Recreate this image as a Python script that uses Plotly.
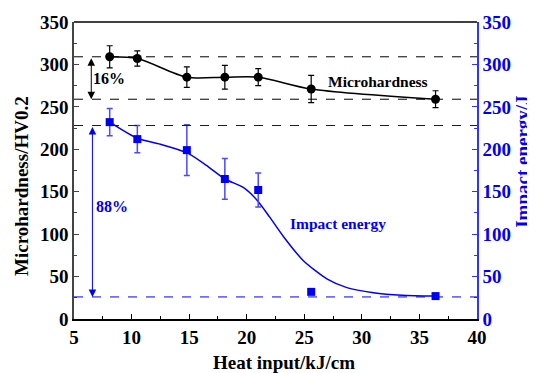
import plotly.graph_objects as go

# Data
heat_input = [8.1, 10.5, 14.8, 18.1, 21.0, 25.6, 36.4]
hardness = [309, 307, 285, 285, 285, 271, 259]
hardness_err = [13, 9, 12, 14, 10, 16, 10]
impact = [232, 212, 199, 165, 152, 32, 27]
impact_err = [16, 16, 30, 24, 20, 0, 0]

# Fitted curve
impact_fit_x = [8.1, 10.5, 12.5, 14.8, 16.5, 18.1, 19.7, 20.9, 22.0, 23.2, 24.9, 27.0, 28.7, 31.0, 33.5, 36.4]
impact_fit_y = [232, 213, 206, 196, 181, 165, 155, 140, 120, 97, 69, 47, 37, 31, 28, 27]

hard_levels = [309, 259]
impact_levels = [228, 26]

FONT = "Liberation Serif, Times New Roman, serif"
BLUE = "#0000f0"
AXBLUE = "#3333ff"

fig = go.Figure()

fig.add_trace(go.Scatter(
    x=heat_input, y=hardness, mode="lines+markers",
    line=dict(color="black", width=1.5, shape="spline", smoothing=0.8),
    marker=dict(symbol="circle", size=9, color="black"),
    error_y=dict(type="data", array=hardness_err, color="black", thickness=1.2, width=3),
    showlegend=False, yaxis="y"))

fig.add_trace(go.Scatter(
    x=impact_fit_x, y=impact_fit_y, mode="lines",
    line=dict(color=BLUE, width=1.5, shape="spline", smoothing=0.7),
    showlegend=False, yaxis="y2", hoverinfo="skip"))

fig.add_trace(go.Scatter(
    x=heat_input, y=impact, mode="markers",
    marker=dict(symbol="square", size=8, color=BLUE),
    error_y=dict(type="data", array=impact_err, color="#4a4aff", thickness=1.5, width=3),
    showlegend=False, yaxis="y2"))

shapes = []
for lv in hard_levels:
    shapes.append(dict(type="line", xref="paper", x0=0, x1=1, yref="y", y0=lv, y1=lv,
                       line=dict(color="black", width=1, dash="dash")))
for lv in impact_levels:
    shapes.append(dict(type="line", xref="paper", x0=0, x1=1, yref="y2", y0=lv, y1=lv,
                       line=dict(color=BLUE, width=1, dash="dash")))

title_font = dict(family=FONT, size=19, color="black", weight="bold")

annotations = [
    dict(x=6.5, y=hard_levels[1], ax=6.5, ay=hard_levels[0], xref="x", yref="y", axref="x", ayref="y",
         text="", showarrow=True, arrowhead=2, startarrowhead=2, arrowside="end+start",
         arrowwidth=1, arrowsize=1.5, startarrowsize=1.5, arrowcolor="black"),
    dict(x=6.6, y=impact_levels[1], ax=6.6, ay=impact_levels[0], xref="x", yref="y", axref="x", ayref="y",
         text="", showarrow=True, arrowhead=2, startarrowhead=2, arrowside="end+start",
         arrowwidth=1, arrowsize=1.5, startarrowsize=1.5, arrowcolor=BLUE),
    dict(x=8.0, y=284, xref="x", yref="y", text="16%", showarrow=False,
         font=dict(family=FONT, size=16, color="black", weight="bold")),
    dict(x=8.3, y=133, xref="x", yref="y", text="88%", showarrow=False,
         font=dict(family=FONT, size=16, color=BLUE, weight="bold")),
    dict(x=31.4, y=280, xref="x", yref="y", text="Microhardness", showarrow=False,
         font=dict(family=FONT, size=15.5, color="black", weight="bold")),
    dict(x=27.9, y=112, xref="x", yref="y", text="Impact energy", showarrow=False,
         font=dict(family=FONT, size=15.5, color=BLUE, weight="bold")),
    # axis titles
    dict(x=0.521, y=-0.145, xref="paper", yref="paper", text="Heat input/kJ/cm", showarrow=False,
         xanchor="center", yanchor="middle", font=title_font),
    dict(x=-0.129, y=0.448, xref="paper", yref="paper", text="Microhardness/HV0.2", showarrow=False,
         textangle=-90, xanchor="center", yanchor="middle", font=title_font),
    dict(x=1.114, y=0.529, xref="paper", yref="paper", text="Impact energy/J", showarrow=False,
         textangle=-90, xanchor="center", yanchor="middle",
         font=dict(family=FONT, size=19, color=BLUE, weight="bold")),
]

tickfont = dict(family=FONT, size=19, color="black", weight="bold")

fig.update_layout(
    width=527, height=365,
    margin=dict(l=66, r=58, t=14, b=54, autoexpand=False),
    paper_bgcolor="white", plot_bgcolor="white",
    font=dict(family=FONT),
    shapes=shapes, annotations=annotations,
    xaxis=dict(range=[5, 40], tick0=5, dtick=5, ticks="inside", ticklen=5, tickwidth=1,
               tickcolor="black", showline=True, linecolor="black", linewidth=1.5, automargin=False,
               mirror=False, showgrid=False, zeroline=False, tickfont=tickfont,
               minor=dict(ticks="inside", ticklen=3, dtick=2.5, tickcolor="black", showgrid=False)),
    yaxis=dict(range=[0, 350], tick0=0, dtick=50, ticks="inside", ticklen=5, tickwidth=1,
               tickcolor="#444", showline=True, linecolor="#444", linewidth=1.5, automargin=False,
               showgrid=False, zeroline=False, tickfont=tickfont,
               minor=dict(ticks="inside", ticklen=3, dtick=25, tickcolor="#444", showgrid=False)),
    yaxis2=dict(range=[0, 350], tick0=0, dtick=50, overlaying="y", side="right",
                ticks="inside", ticklen=5, tickwidth=1, tickcolor=AXBLUE, automargin=False,
                showline=True, linecolor=AXBLUE, linewidth=1.5, showgrid=False, zeroline=False,
                tickfont=dict(family=FONT, size=19, color=BLUE, weight="bold"),
                minor=dict(ticks="inside", ticklen=3, dtick=25, tickcolor=AXBLUE, showgrid=False)),
)

# top border
fig.add_shape(type="line", xref="paper", yref="paper", x0=0, x1=1, y0=1, y1=1,
              line=dict(color="black", width=1.5))

fig.write_html("out.html")
